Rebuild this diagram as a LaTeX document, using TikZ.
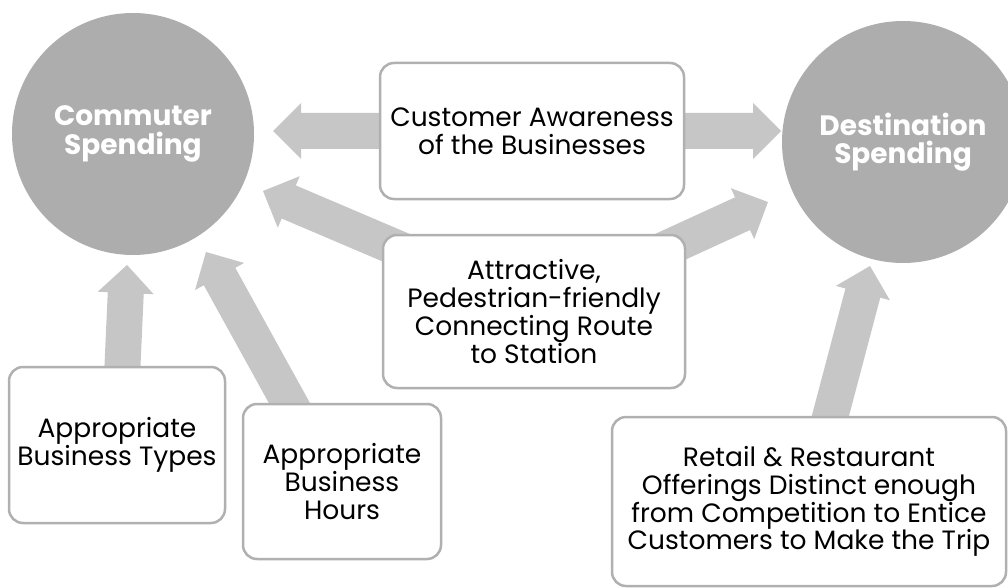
\documentclass[tikz,border=0pt]{standalone}
\usepackage{fontspec}
\setmainfont{Poppins}
\usetikzlibrary{calc,backgrounds}
\definecolor{circgray}{HTML}{ADADAD}
\definecolor{arrgray}{HTML}{C6C6C6}
\definecolor{boxgray}{HTML}{B0B0B0}
% block arrow from #1 (start) to #2 (tip)
\newcommand\blockarrow[2]{%
  \coordinate (ab) at ($(#2)!28pt!(#1)$);
  \fill[arrgray] (#2) -- ($(ab)!28pt!90:(#2)$) -- ($(ab)!18pt!90:(#2)$)
    -- ($(#1)!18pt!90:(#2)$) -- ($(#1)!18pt!-90:(#2)$)
    -- ($(ab)!18pt!-90:(#2)$) -- ($(ab)!28pt!-90:(#2)$) -- cycle;
}
\begin{document}
\begin{tikzpicture}[x=1pt,y=-1pt,
  box/.style={draw=boxgray, line width=2.5pt, rounded corners=14pt, fill=white,
    align=center, text=black, inner sep=0pt, font=\fontsize{26.5}{27.8}\selectfont},
  hub/.style={circle, fill=circgray, minimum size=242pt, inner sep=0pt, text=white,
    align=center, font=\bfseries\fontsize{28}{28.5}\selectfont}]
\useasboundingbox (0,0) rectangle (1008,588);
\clip (0,0) rectangle (1008,588);
\node[hub] (comm) at (133,134) {Commuter\\Spending};
\node[hub] (dest) at (903,142) {Destination\\Spending};
\node[box, minimum width=304pt, minimum height=136pt] (aware) at (532,131) {Customer Awareness\\of the Businesses};
\node[box, minimum width=302pt, minimum height=153pt] (attr) at (534,311.5) {Attractive,\\Pedestrian-friendly\\Connecting Route\\to Station};
\node[box, minimum width=216pt, minimum height=156pt] (types) at (117,445) {Appropriate\\Business Types};
\node[box, minimum width=198pt, minimum height=155pt] (hours) at (342,481.5) {Appropriate\\Business\\Hours};
\node[box, minimum width=394pt, minimum height=169pt] (retail) at (809,501.5) {Retail \& Restaurant\\Offerings Distinct enough\\from Competition to Entice\\Customers to Make the Trip};
% arrow ends
\coordinate (t1) at (273,131);
\coordinate (t2) at (781,131);
\coordinate (t3) at (263,191);
\coordinate (s3) at ($(attr.north west)+(45,27)$);
\coordinate (t4) at (768,202);
\coordinate (s4) at ($(attr.north east)+(-53,30)$);
\coordinate (t5) at (127,265);
\coordinate (s5) at ($(types.north)+(4,33)$);
\coordinate (t6) at (206,252);
\coordinate (s6) at ($(hours.north)+(-45,14)$);
\coordinate (t7) at (870,266);
\coordinate (s7) at ($(retail.north)+(18,13)$);
\begin{pgfonlayer}{background}
\blockarrow{aware.center}{t1}
\blockarrow{aware.center}{t2}
\blockarrow{s3}{t3}
\blockarrow{s4}{t4}
\blockarrow{s5}{t5}
\blockarrow{s6}{t6}
\blockarrow{s7}{t7}
\end{pgfonlayer}
\end{tikzpicture}
\end{document}
